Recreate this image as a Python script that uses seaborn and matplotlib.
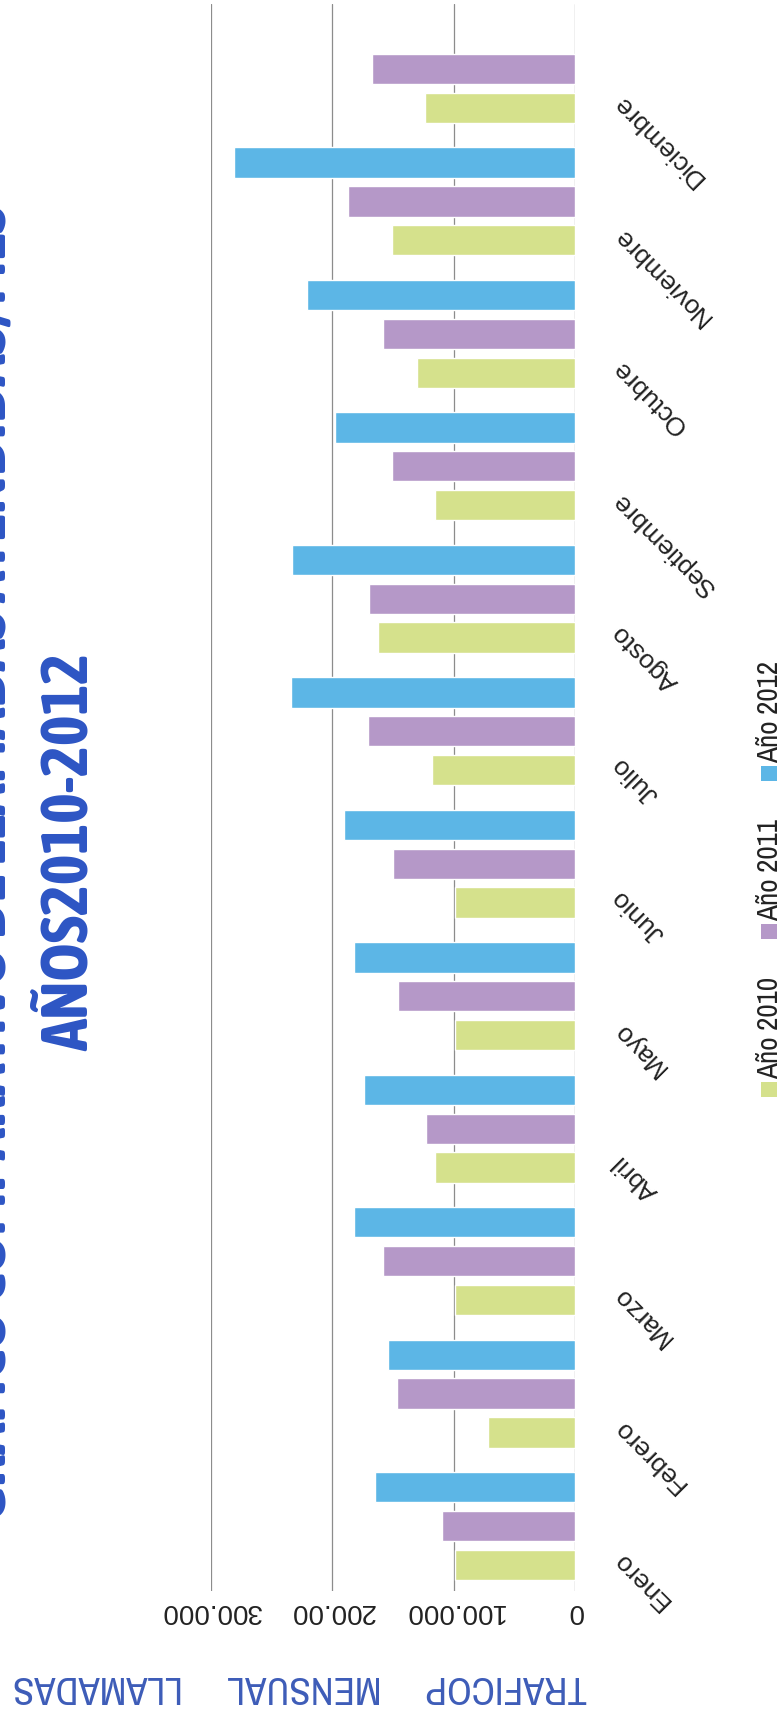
import numpy as np
import pandas as pd
import matplotlib
matplotlib.use("Agg")
import matplotlib.pyplot as plt
import matplotlib.transforms as mtransforms
from matplotlib.patches import Rectangle
import seaborn as sns

# datos (llamadas por mes)
meses = ["Enero", "Febrero", "Marzo", "Abril", "Mayo", "Junio", "Julio",
         "Agosto", "Septiembre", "Octubre", "Noviembre", "Diciembre"]
anios = ["Año 2010", "Año 2011", "Año 2012"]
llamadas_2010 = [99000, 72000, 99000, 115000, 99000, 99000, 118000,
                 162000, 115000, 130000, 151000, 124000]
llamadas_2011 = [110000, 147000, 158000, 123000, 146000, 150000, 171000,
                 170000, 151000, 158000, 187000, 167000]
llamadas_2012 = [165000, 154000, 182000, 174000, 182000, 190000, 234000,
                 233000, 198000, 221000, 281000, np.nan]
valores_eje = [0, 100000, 200000, 300000]
etiquetas_eje = ["0", "100.000", "200.00", "300.000"]
colores = ["#d5e18c", "#b598c8", "#5cb6e6"]

df = pd.DataFrame({
    "Mes": meses * 3,
    "Año": np.repeat(anios, len(meses)),
    "Llamadas": llamadas_2010 + llamadas_2011 + llamadas_2012,
}).dropna()

sns.set_theme(style="white")
plt.rcParams["font.family"] = ["Liberation Sans", "DejaVu Sans"]
angosta = ["Archivo Narrow", "Liberation Sans", "DejaVu Sans"]
angosta_negrita = ["Asap Condensed", "Archivo Narrow", "DejaVu Sans"]

W, H = 783, 1724
fig = plt.figure(figsize=(W / 100, H / 100), dpi=100)
ax = fig.add_axes([211 / W, 1 - 1592 / H, (575 - 211) / W, (1592 - 5) / H])

sns.barplot(data=df, x="Llamadas", y="Mes", hue="Año", order=meses,
            hue_order=anios, palette=colores, orient="h", width=0.88,
            gap=0.22, errorbar=None, saturation=1, legend=False, ax=ax)

ax.set_xlim(300000, 0)
ax.set_ylim(-0.49, len(meses) - 0.51)
for s in ax.spines.values():
    s.set_visible(False)
ax.set_xlabel("")
ax.set_ylabel("")

# eje de valores
ax.set_xticks(valores_eje)
ax.set_xticklabels(etiquetas_eje, rotation=180, fontsize=20, color="#222222")
ax.tick_params(axis="x", length=0, pad=4)
ax.grid(axis="x", color="#8c8c8c", linewidth=0.9)
ax.set_axisbelow(True)

# meses a la derecha, en diagonal
ax.yaxis.tick_right()
ax.set_yticks(range(len(meses)))
ax.set_yticklabels(meses, rotation=135, rotation_mode="anchor",
                   ha="right", va="bottom", fontsize=19, color="#222222")
ax.tick_params(axis="y", length=0, pad=36)
desplazamiento = mtransforms.ScaledTranslation(0, -0.2, fig.dpi_scale_trans)
for lbl in ax.get_yticklabels():
    lbl.set_transform(lbl.get_transform() + desplazamiento)

# titulo eje
fig.text(300 / W, 1 - 1687 / H, "TRAFICOP     MENSUAL     LLAMADAS",
         rotation=180, ha="center", va="center", fontsize=28,
         color="#3d5cb8", family=angosta)

# titulos (girados, la primera linea queda cortada como en el original)
fig.text(-12 / W, 1 - 205 / H,
         "GRÁFICO COMPARATIVO DE LLAMADAS ATENDIDAS/MES",
         rotation=90, ha="center", va="top", fontsize=47, weight="bold",
         color="#2d55c4", family=angosta_negrita)
fig.text(70 / W, 1 - 852 / H, "AÑOS2010-2012", rotation=90, ha="center",
         va="center", fontsize=47, weight="bold", color="#2d55c4",
         family=angosta_negrita)

# leyenda vertical
for i, (anio, color) in enumerate(zip(anios, colores)):
    yc = 1090 - i * 158
    fig.add_artist(Rectangle((761 / W, 1 - (yc + 8) / H), 16 / W, 15 / H,
                             transform=fig.transFigure, facecolor=color,
                             edgecolor="none"))
    fig.text(770 / W, 1 - (yc - 11) / H, anio, rotation=90, ha="center",
             va="bottom", fontsize=21, color="#222222", family=angosta)

fig.savefig("out.png", dpi=100)
